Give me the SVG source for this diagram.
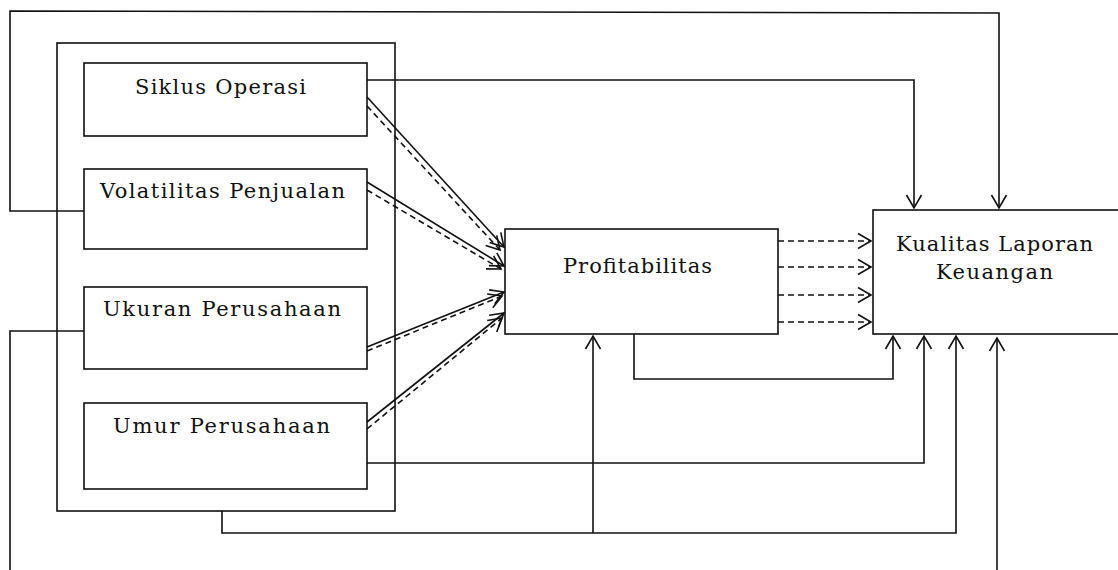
<svg xmlns="http://www.w3.org/2000/svg" width="1118" height="570" viewBox="0 0 1118 570">
<style>
.box{fill:#fff;stroke:#111;stroke-width:1.6}
.ln{fill:none;stroke:#111;stroke-width:1.6}
.ds{fill:none;stroke:#111;stroke-width:1.6;stroke-dasharray:6 4}
.t{font-family:"DejaVu Serif","Liberation Serif",serif;font-size:21px;fill:#111}
</style>
<defs>
<marker id="ah" markerUnits="userSpaceOnUse" markerWidth="20" markerHeight="20" viewBox="-15 -10 17 20" refX="0" refY="0" orient="auto">
<path d="M-13,-7.5 L0,0 L-13,7.5" fill="none" stroke="#111" stroke-width="1.6"/>
</marker>
</defs>
<rect width="1118" height="570" fill="#fff"/>
<g id="outer"><rect class="box" x="57" y="43" width="338" height="468"/></g>
<g id="siklus"><rect class="box" x="84" y="63" width="283" height="73"/><text class="t" x="135" y="94" textLength="171" lengthAdjust="spacing">Siklus Operasi</text></g>
<g id="volatilitas"><rect class="box" x="84" y="169" width="283" height="80"/><text class="t" x="100" y="198" textLength="245" lengthAdjust="spacing">Volatilitas Penjualan</text></g>
<g id="ukuran"><rect class="box" x="84" y="287" width="283" height="82"/><text class="t" x="103" y="316" textLength="238" lengthAdjust="spacing">Ukuran Perusahaan</text></g>
<g id="umur"><rect class="box" x="84" y="403" width="283" height="86"/><text class="t" x="113" y="433" textLength="217" lengthAdjust="spacing">Umur Perusahaan</text></g>
<g id="profitabilitas"><rect class="box" x="505" y="229" width="273" height="105"/><text class="t" x="563" y="273" textLength="149" lengthAdjust="spacing">Profitabilitas</text></g>
<g id="kualitas"><rect class="box" x="873" y="210" width="260" height="124"/><text class="t" x="896" y="251" textLength="197" lengthAdjust="spacing">Kualitas Laporan</text><text class="t" x="936" y="279" textLength="117" lengthAdjust="spacing">Keuangan</text></g>
<g id="connectors">
<path class="ln" d="M84,211 H10 V11 L999,13 V208" marker-end="url(#ah)"/>
<path class="ln" d="M367,80 H914 V208" marker-end="url(#ah)"/>
<path class="ln" d="M367,97 L504,247" marker-end="url(#ah)"/>
<path class="ds" d="M367,106 L500,250" marker-end="url(#ah)"/>
<path class="ln" d="M367,182 L504,266" marker-end="url(#ah)"/>
<path class="ds" d="M367,190 L501,269" marker-end="url(#ah)"/>
<path class="ln" d="M367,347 L504,292" marker-end="url(#ah)"/>
<path class="ds" d="M367,351 L502,296" marker-end="url(#ah)"/>
<path class="ln" d="M367,422 L504,313" marker-end="url(#ah)"/>
<path class="ds" d="M367,429 L502,318" marker-end="url(#ah)"/>
<path class="ds" d="M778,241 H871" marker-end="url(#ah)"/>
<path class="ds" d="M778,267 H871" marker-end="url(#ah)"/>
<path class="ds" d="M778,295 H871" marker-end="url(#ah)"/>
<path class="ds" d="M778,322 H871" marker-end="url(#ah)"/>
<path class="ln" d="M634,334 V379 H893 V336" marker-end="url(#ah)"/>
<path class="ln" d="M367,463 H924 V336" marker-end="url(#ah)"/>
<path class="ln" d="M222,511 V533 H956 V336" marker-end="url(#ah)"/>
<path class="ln" d="M593,533 V336" marker-end="url(#ah)"/>
<path class="ln" d="M84,331 H10 V570"/>
<path class="ln" d="M997,570 V338" marker-end="url(#ah)"/>
</g>
</svg>
